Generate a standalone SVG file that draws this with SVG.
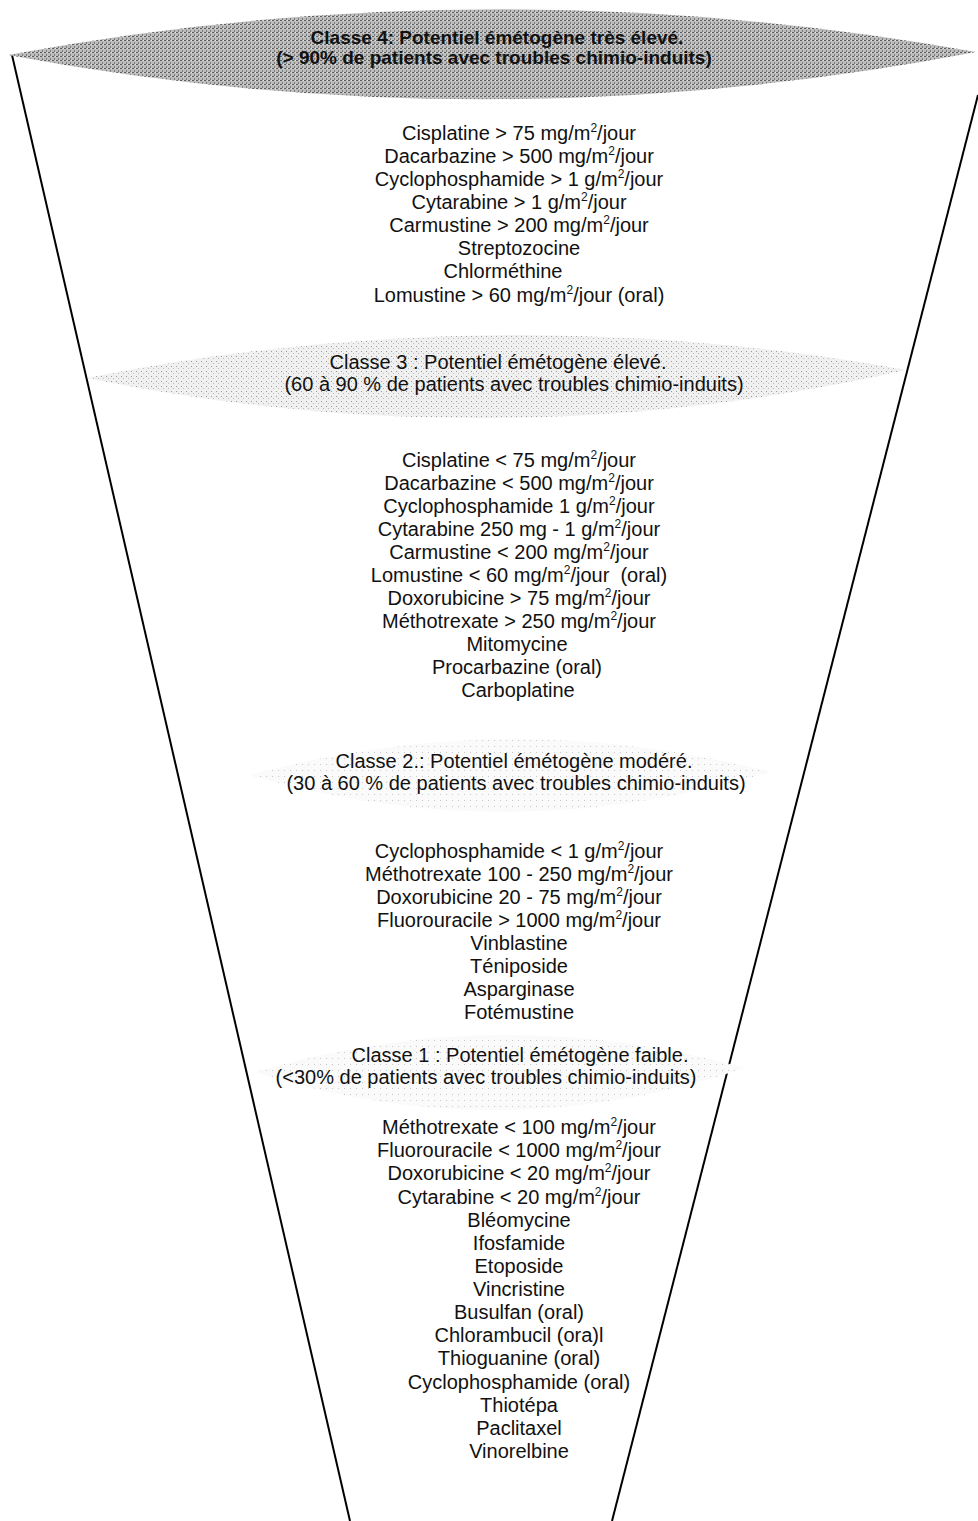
<svg xmlns="http://www.w3.org/2000/svg" width="978" height="1521" viewBox="0 0 978 1521">
<style>
text{font-family:"Liberation Sans",Arial,sans-serif;font-size:20px;fill:#111;text-anchor:middle}
.b{font-weight:bold;font-size:19px}
.s{font-size:12px}
.ln{stroke:#000;stroke-width:2;fill:none}
</style>
<defs>
<pattern id="dk" width="4" height="4" patternUnits="userSpaceOnUse">
<rect width="4" height="4" fill="#bcbcbc"/>
<rect x="0" y="0" width="2" height="1" fill="#5e5e5e"/>
<rect x="2" y="2" width="1" height="2" fill="#7c7c7c"/>
<rect x="3" y="0" width="1" height="1" fill="#e0e0e0"/>
</pattern>
<pattern id="lt" width="5" height="5" patternUnits="userSpaceOnUse">
<rect width="5" height="5" fill="#f0f0f0"/>
<rect x="1" y="1" width="1" height="1" fill="#9a9a9a"/>
<rect x="3" y="3" width="1" height="1" fill="#bbb"/>
</pattern>
<pattern id="vl" width="6" height="6" patternUnits="userSpaceOnUse">
<rect width="6" height="6" fill="#fafafa"/>
<rect x="2" y="2" width="1" height="1" fill="#c8c8c8"/>
</pattern>
</defs>
<g id="connectors">
<line class="ln" x1="12" y1="55" x2="350" y2="1521"/>
<line class="ln" x1="978" y1="95" x2="612" y2="1521"/>
</g>
<g id="classe4">
<path d="M8,55 Q490,-35 976,52 Q490,145 8,55 Z" fill="url(#dk)"/>
<text class="b" x="497" y="44">Classe 4: Potentiel émétogène très élevé.</text>
<text class="b" x="494" y="64">(&gt; 90% de patients avec troubles chimio-induits)</text>
</g>
<g id="liste4">
<text x="519" y="140">Cisplatine &gt; 75 mg/m<tspan class="s" dy="-8">2</tspan><tspan dy="8">/jour</tspan></text>
<text x="519" y="163">Dacarbazine &gt; 500 mg/m<tspan class="s" dy="-8">2</tspan><tspan dy="8">/jour</tspan></text>
<text x="519" y="186">Cyclophosphamide &gt; 1 g/m<tspan class="s" dy="-8">2</tspan><tspan dy="8">/jour</tspan></text>
<text x="519" y="209">Cytarabine &gt; 1 g/m<tspan class="s" dy="-8">2</tspan><tspan dy="8">/jour</tspan></text>
<text x="519" y="232">Carmustine &gt; 200 mg/m<tspan class="s" dy="-8">2</tspan><tspan dy="8">/jour</tspan></text>
<text x="519" y="255">Streptozocine</text>
<text x="503" y="278">Chlorméthine</text>
<text x="519" y="302">Lomustine &gt; 60 mg/m<tspan class="s" dy="-8">2</tspan><tspan dy="8">/jour (oral)</tspan></text>
</g>
<g id="classe3">
<path d="M87,378 Q497,296 906,370 Q497,462 87,378 Z" fill="url(#lt)"/>
<text x="498" y="369">Classe 3 : Potentiel émétogène élevé.</text>
<text x="514" y="391">(60 à 90 % de patients avec troubles chimio-induits)</text>
</g>
<g id="liste3">
<text x="519" y="467">Cisplatine &lt; 75 mg/m<tspan class="s" dy="-8">2</tspan><tspan dy="8">/jour</tspan></text>
<text x="519" y="490">Dacarbazine &lt; 500 mg/m<tspan class="s" dy="-8">2</tspan><tspan dy="8">/jour</tspan></text>
<text x="519" y="513">Cyclophosphamide 1 g/m<tspan class="s" dy="-8">2</tspan><tspan dy="8">/jour</tspan></text>
<text x="519" y="536">Cytarabine 250 mg - 1 g/m<tspan class="s" dy="-8">2</tspan><tspan dy="8">/jour</tspan></text>
<text x="519" y="559">Carmustine &lt; 200 mg/m<tspan class="s" dy="-8">2</tspan><tspan dy="8">/jour</tspan></text>
<text x="519" y="582" xml:space="preserve">Lomustine &lt; 60 mg/m<tspan class="s" dy="-8">2</tspan><tspan dy="8">/jour  (oral)</tspan></text>
<text x="519" y="605">Doxorubicine &gt; 75 mg/m<tspan class="s" dy="-8">2</tspan><tspan dy="8">/jour</tspan></text>
<text x="519" y="628">Méthotrexate &gt; 250 mg/m<tspan class="s" dy="-8">2</tspan><tspan dy="8">/jour</tspan></text>
<text x="517" y="651">Mitomycine</text>
<text x="517" y="674">Procarbazine (oral)</text>
<text x="518" y="697">Carboplatine</text>
</g>
<g id="classe2">
<path d="M250,775 Q510,705 770,772 Q510,850 250,775 Z" fill="url(#vl)"/>
<text x="514" y="768">Classe 2.: Potentiel émétogène modéré.</text>
<text x="516" y="790">(30 à 60 % de patients avec troubles chimio-induits)</text>
</g>
<g id="liste2">
<text x="519" y="858">Cyclophosphamide &lt; 1 g/m<tspan class="s" dy="-8">2</tspan><tspan dy="8">/jour</tspan></text>
<text x="519" y="881">Méthotrexate 100 - 250 mg/m<tspan class="s" dy="-8">2</tspan><tspan dy="8">/jour</tspan></text>
<text x="519" y="904">Doxorubicine 20 - 75 mg/m<tspan class="s" dy="-8">2</tspan><tspan dy="8">/jour</tspan></text>
<text x="519" y="927">Fluorouracile &gt; 1000 mg/m<tspan class="s" dy="-8">2</tspan><tspan dy="8">/jour</tspan></text>
<text x="519" y="950">Vinblastine</text>
<text x="519" y="973">Téniposide</text>
<text x="519" y="996">Asparginase</text>
<text x="519" y="1019">Fotémustine</text>
</g>
<g id="classe1">
<path d="M255,1072 Q500,1000 745,1068 Q500,1150 255,1072 Z" fill="url(#vl)"/>
<text x="520" y="1062">Classe 1 : Potentiel émétogène faible.</text>
<text x="486" y="1084">(&lt;30% de patients avec troubles chimio-induits)</text>
</g>
<g id="liste1">
<text x="519" y="1134">Méthotrexate &lt; 100 mg/m<tspan class="s" dy="-8">2</tspan><tspan dy="8">/jour</tspan></text>
<text x="519" y="1157">Fluorouracile &lt; 1000 mg/m<tspan class="s" dy="-8">2</tspan><tspan dy="8">/jour</tspan></text>
<text x="519" y="1180">Doxorubicine &lt; 20 mg/m<tspan class="s" dy="-8">2</tspan><tspan dy="8">/jour</tspan></text>
<text x="519" y="1204">Cytarabine &lt; 20 mg/m<tspan class="s" dy="-8">2</tspan><tspan dy="8">/jour</tspan></text>
<text x="519" y="1227">Bléomycine</text>
<text x="519" y="1250">Ifosfamide</text>
<text x="519" y="1273">Etoposide</text>
<text x="519" y="1296">Vincristine</text>
<text x="519" y="1319">Busulfan (oral)</text>
<text x="519" y="1342">Chlorambucil (ora)l</text>
<text x="519" y="1365">Thioguanine (oral)</text>
<text x="519" y="1389">Cyclophosphamide (oral)</text>
<text x="519" y="1412">Thiotépa</text>
<text x="519" y="1435">Paclitaxel</text>
<text x="519" y="1458">Vinorelbine</text>
</g>
</svg>
